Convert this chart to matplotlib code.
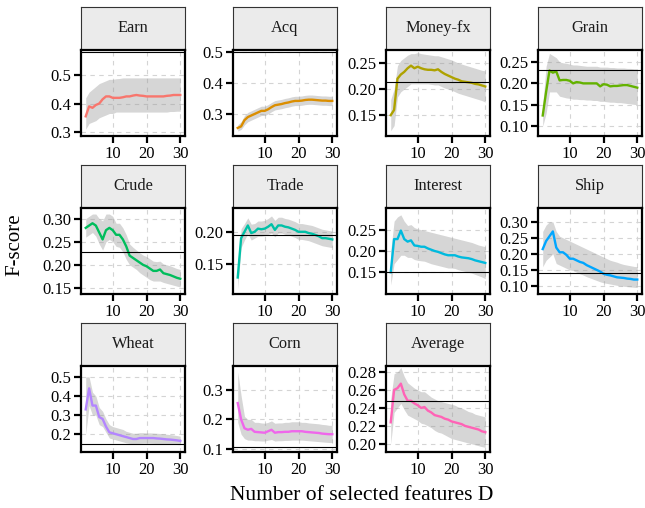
import numpy as np
import matplotlib
matplotlib.use("Agg")
import matplotlib.pyplot as plt
from matplotlib.ticker import FormatStrFormatter

plt.rcParams['font.family'] = ['Liberation Serif', 'DejaVu Serif']

# number of selected features D
x = list(range(2, 31))

names = ["Earn", "Acq", "Money-fx", "Grain", "Crude", "Trade",
         "Interest", "Ship", "Wheat", "Corn", "Average"]
colors = ["#F8766D", "#DB8E00", "#AEA200", "#64B200", "#00BD5C", "#00C1A7",
          "#00BADE", "#00A6FF", "#B385FF", "#EF67EB", "#FF63B6"]

# baseline F-score (black horizontal line)
baseline = [0.582, 0.5, 0.214, 0.231, 0.227, 0.195, 0.15, 0.14, 0.148, 0.107, 0.248]

earn_mean = [0.355, 0.39, 0.385, 0.395, 0.40, 0.415, 0.425, 0.425, 0.42, 0.42, 0.42, 0.422, 0.425, 0.425, 0.428,
             0.43, 0.428, 0.427, 0.425, 0.425, 0.425, 0.425, 0.425, 0.425, 0.427, 0.428, 0.43, 0.43, 0.43]
earn_lo = [0.31, 0.33, 0.335, 0.34, 0.35, 0.355, 0.36, 0.365, 0.365, 0.37, 0.37, 0.37, 0.37, 0.37, 0.37,
           0.37, 0.37, 0.37, 0.37, 0.37, 0.37, 0.37, 0.37, 0.37, 0.37, 0.372, 0.372, 0.373, 0.373]
earn_hi = [0.42, 0.44, 0.45, 0.46, 0.47, 0.475, 0.48, 0.485, 0.485, 0.487, 0.488, 0.49, 0.49, 0.49, 0.49,
           0.49, 0.49, 0.49, 0.49, 0.49, 0.49, 0.49, 0.49, 0.49, 0.49, 0.49, 0.49, 0.49, 0.49]

acq_mean = [0.255, 0.26, 0.28, 0.29, 0.295, 0.30, 0.305, 0.31, 0.31, 0.315, 0.322, 0.328, 0.33, 0.332, 0.335,
            0.337, 0.34, 0.342, 0.342, 0.343, 0.345, 0.346, 0.346, 0.345, 0.344, 0.343, 0.343, 0.342, 0.342]
acq_lo = [0.245, 0.25, 0.265, 0.275, 0.28, 0.285, 0.29, 0.295, 0.295, 0.30, 0.307, 0.313, 0.315, 0.317, 0.32,
          0.322, 0.325, 0.327, 0.327, 0.328, 0.33, 0.331, 0.331, 0.33, 0.329, 0.328, 0.328, 0.327, 0.327]
acq_hi = [0.265, 0.275, 0.295, 0.305, 0.31, 0.315, 0.32, 0.325, 0.325, 0.33, 0.337, 0.343, 0.345, 0.347, 0.35,
          0.352, 0.355, 0.357, 0.357, 0.358, 0.36, 0.361, 0.361, 0.36, 0.359, 0.358, 0.358, 0.357, 0.357]

mfx_mean = [0.15, 0.16, 0.22, 0.228, 0.233, 0.24, 0.245, 0.24, 0.243, 0.24, 0.238, 0.237, 0.237, 0.236, 0.238,
            0.233, 0.229, 0.226, 0.223, 0.22, 0.218, 0.215, 0.214, 0.213, 0.212, 0.21, 0.209, 0.207, 0.205]
mfx_lo = [0.12, 0.13, 0.185, 0.195, 0.2, 0.205, 0.21, 0.21, 0.21, 0.21, 0.21, 0.21, 0.209, 0.208, 0.208,
          0.205, 0.202, 0.2, 0.198, 0.195, 0.192, 0.19, 0.188, 0.186, 0.184, 0.182, 0.18, 0.178, 0.175]
mfx_hi = [0.18, 0.2, 0.245, 0.255, 0.26, 0.265, 0.268, 0.268, 0.27, 0.268, 0.267, 0.266, 0.265, 0.264, 0.264,
          0.262, 0.26, 0.258, 0.256, 0.253, 0.25, 0.248, 0.246, 0.244, 0.242, 0.24, 0.238, 0.236, 0.235]

grain_mean = [0.125, 0.18, 0.23, 0.225, 0.228, 0.207, 0.208, 0.208, 0.206, 0.2, 0.203, 0.202, 0.2, 0.2, 0.2,
              0.2, 0.2, 0.193, 0.198, 0.197, 0.193, 0.194, 0.194, 0.195, 0.196, 0.196, 0.194, 0.192, 0.19]
grain_lo = [0.1, 0.13, 0.18, 0.18, 0.18, 0.17, 0.168, 0.166, 0.165, 0.163, 0.163, 0.162, 0.162, 0.161, 0.161,
            0.16, 0.16, 0.158, 0.158, 0.157, 0.156, 0.156, 0.155, 0.155, 0.154, 0.153, 0.152, 0.151, 0.15]
grain_hi = [0.15, 0.24, 0.27, 0.265, 0.26, 0.25, 0.248, 0.247, 0.245, 0.243, 0.243, 0.242, 0.241, 0.24, 0.24,
            0.24, 0.24, 0.238, 0.238, 0.238, 0.237, 0.237, 0.236, 0.236, 0.236, 0.235, 0.235, 0.234, 0.234]

crude_mean = [0.28, 0.285, 0.29, 0.285, 0.27, 0.255, 0.275, 0.28, 0.275, 0.265, 0.265, 0.255, 0.24, 0.22, 0.215,
              0.21, 0.205, 0.2, 0.197, 0.192, 0.187, 0.187, 0.19, 0.182, 0.18, 0.178, 0.175, 0.172, 0.17]
crude_lo = [0.26, 0.265, 0.27, 0.262, 0.245, 0.232, 0.25, 0.255, 0.25, 0.24, 0.238, 0.228, 0.212, 0.2, 0.195,
            0.19, 0.183, 0.178, 0.173, 0.168, 0.165, 0.165, 0.165, 0.162, 0.16, 0.158, 0.156, 0.154, 0.152]
crude_hi = [0.30, 0.305, 0.31, 0.31, 0.30, 0.295, 0.31, 0.31, 0.305, 0.29, 0.29, 0.28, 0.265, 0.245, 0.238,
            0.232, 0.226, 0.221, 0.218, 0.213, 0.208, 0.207, 0.208, 0.202, 0.2, 0.198, 0.195, 0.192, 0.19]

trade_mean = [0.128, 0.19, 0.2, 0.21, 0.198, 0.2, 0.205, 0.204, 0.205, 0.208, 0.212, 0.203, 0.21, 0.21, 0.208,
              0.207, 0.205, 0.203, 0.2, 0.2, 0.2, 0.198, 0.197, 0.195, 0.193, 0.19, 0.19, 0.189, 0.188]
trade_lo = [0.11, 0.175, 0.187, 0.197, 0.187, 0.19, 0.193, 0.193, 0.194, 0.196, 0.198, 0.192, 0.198, 0.198, 0.196,
            0.195, 0.193, 0.191, 0.188, 0.188, 0.187, 0.186, 0.184, 0.182, 0.18, 0.178, 0.177, 0.176, 0.175]
trade_hi = [0.15, 0.205, 0.213, 0.222, 0.212, 0.213, 0.217, 0.217, 0.218, 0.221, 0.225, 0.218, 0.223, 0.223, 0.221,
            0.22, 0.218, 0.216, 0.213, 0.213, 0.212, 0.211, 0.21, 0.208, 0.206, 0.204, 0.203, 0.202, 0.201]

interest_mean = [0.15, 0.228, 0.228, 0.248, 0.228, 0.222, 0.225, 0.213, 0.212, 0.21, 0.21, 0.206, 0.203, 0.2, 0.198,
                 0.195, 0.192, 0.19, 0.19, 0.19, 0.187, 0.185, 0.184, 0.183, 0.181, 0.178, 0.176, 0.174, 0.172]
interest_lo = [0.12, 0.17, 0.18, 0.19, 0.19, 0.185, 0.185, 0.18, 0.178, 0.177, 0.176, 0.173, 0.17, 0.168, 0.166,
               0.164, 0.162, 0.16, 0.16, 0.159, 0.156, 0.154, 0.152, 0.15, 0.148, 0.145, 0.142, 0.139, 0.135]
interest_hi = [0.2, 0.27, 0.28, 0.285, 0.27, 0.26, 0.262, 0.255, 0.252, 0.25, 0.248, 0.246, 0.244, 0.242, 0.24,
               0.238, 0.236, 0.234, 0.232, 0.23, 0.228, 0.226, 0.224, 0.222, 0.22, 0.217, 0.214, 0.212, 0.21]

ship_mean = [0.215, 0.24, 0.255, 0.27, 0.22, 0.205, 0.205, 0.197, 0.185, 0.185, 0.18, 0.175, 0.172, 0.165, 0.16,
             0.155, 0.15, 0.145, 0.138, 0.135, 0.133, 0.13, 0.127, 0.126, 0.125, 0.123, 0.122, 0.12, 0.12]
ship_lo = [0.16, 0.18, 0.19, 0.2, 0.17, 0.165, 0.16, 0.155, 0.15, 0.148, 0.143, 0.138, 0.134, 0.129, 0.125,
           0.121, 0.117, 0.113, 0.11, 0.108, 0.106, 0.104, 0.102, 0.1, 0.099, 0.098, 0.097, 0.096, 0.095]
ship_hi = [0.27, 0.29, 0.3, 0.3, 0.27, 0.255, 0.25, 0.245, 0.24, 0.235, 0.23, 0.225, 0.22, 0.215, 0.21,
           0.205, 0.2, 0.195, 0.19, 0.185, 0.18, 0.177, 0.174, 0.17, 0.167, 0.165, 0.163, 0.161, 0.16]

wheat_mean = [0.33, 0.44, 0.35, 0.35, 0.29, 0.28, 0.24, 0.21, 0.205, 0.2, 0.195, 0.19, 0.185, 0.18, 0.175,
              0.175, 0.18, 0.18, 0.18, 0.18, 0.18, 0.178, 0.177, 0.175, 0.173, 0.172, 0.17, 0.168, 0.165]
wheat_lo = [0.2, 0.35, 0.3, 0.3, 0.25, 0.24, 0.21, 0.18, 0.175, 0.17, 0.165, 0.16, 0.155, 0.152, 0.15,
            0.15, 0.152, 0.153, 0.153, 0.153, 0.152, 0.151, 0.15, 0.15, 0.149, 0.148, 0.147, 0.146, 0.145]
wheat_hi = [0.5, 0.5, 0.42, 0.4, 0.34, 0.32, 0.28, 0.25, 0.24, 0.235, 0.23, 0.225, 0.215, 0.21, 0.205,
            0.205, 0.208, 0.208, 0.207, 0.207, 0.206, 0.205, 0.204, 0.202, 0.2, 0.198, 0.196, 0.193, 0.19]

corn_mean = [0.255, 0.2, 0.17, 0.165, 0.168, 0.158, 0.157, 0.156, 0.155, 0.16, 0.165, 0.155, 0.157, 0.157, 0.158,
             0.158, 0.16, 0.16, 0.16, 0.16, 0.158, 0.157, 0.156, 0.155, 0.154, 0.152, 0.151, 0.15, 0.15]
corn_lo = [0.19, 0.15, 0.135, 0.13, 0.13, 0.128, 0.128, 0.127, 0.127, 0.13, 0.132, 0.127, 0.128, 0.128, 0.129,
           0.129, 0.13, 0.13, 0.13, 0.13, 0.129, 0.128, 0.127, 0.126, 0.125, 0.124, 0.123, 0.122, 0.122]
corn_hi = [0.36, 0.28, 0.21, 0.2, 0.2, 0.19, 0.19, 0.188, 0.187, 0.19, 0.195, 0.187, 0.188, 0.188, 0.19,
           0.19, 0.192, 0.192, 0.192, 0.19, 0.19, 0.188, 0.187, 0.186, 0.185, 0.183, 0.182, 0.18, 0.18]

avg_mean = [0.224, 0.26, 0.262, 0.267, 0.255, 0.248, 0.248, 0.245, 0.243, 0.24, 0.241, 0.237, 0.235, 0.232, 0.231,
            0.23, 0.228, 0.227, 0.225, 0.224, 0.223, 0.222, 0.22, 0.219, 0.218, 0.217, 0.216, 0.214, 0.213]
avg_lo = [0.2, 0.235, 0.24, 0.245, 0.238, 0.232, 0.23, 0.228, 0.226, 0.223, 0.222, 0.22, 0.218, 0.215, 0.213,
          0.212, 0.21, 0.208, 0.206, 0.205, 0.204, 0.203, 0.202, 0.201, 0.2, 0.199, 0.198, 0.197, 0.196]
avg_hi = [0.25, 0.278, 0.28, 0.285, 0.275, 0.268, 0.265, 0.262, 0.26, 0.258, 0.258, 0.255, 0.252, 0.25, 0.248,
          0.247, 0.246, 0.245, 0.244, 0.243, 0.241, 0.24, 0.238, 0.236, 0.235, 0.233, 0.232, 0.231, 0.23]

means = [earn_mean, acq_mean, mfx_mean, grain_mean, crude_mean, trade_mean,
         interest_mean, ship_mean, wheat_mean, corn_mean, avg_mean]
lows = [earn_lo, acq_lo, mfx_lo, grain_lo, crude_lo, trade_lo,
        interest_lo, ship_lo, wheat_lo, corn_lo, avg_lo]
highs = [earn_hi, acq_hi, mfx_hi, grain_hi, crude_hi, trade_hi,
         interest_hi, ship_hi, wheat_hi, corn_hi, avg_hi]

# axis setup per panel
ylims = [(0.286, 0.588), (0.229, 0.506), (0.11, 0.275), (0.077, 0.278), (0.137, 0.323), (0.102, 0.2375),
         (0.099, 0.301), (0.075, 0.343), (0.107, 0.557), (0.09, 0.38), (0.191, 0.2866)]
yticks = [[0.3, 0.4, 0.5], [0.3, 0.4, 0.5], [0.15, 0.2, 0.25], [0.1, 0.15, 0.2, 0.25],
          [0.15, 0.2, 0.25, 0.3], [0.15, 0.2], [0.15, 0.2, 0.25], [0.1, 0.15, 0.2, 0.25, 0.3],
          [0.2, 0.3, 0.4, 0.5], [0.1, 0.2, 0.3], [0.2, 0.22, 0.24, 0.26, 0.28]]
yfmt = ["%.1f", "%.1f", "%.2f", "%.2f", "%.2f", "%.2f", "%.2f", "%.2f", "%.1f", "%.1f", "%.2f"]

W, H = 645, 508
fig = plt.figure(figsize=(W / 100, H / 100), dpi=100)

col_left = [81, 233, 386, 538]
row_top = [7, 165, 323]
pw = 104
sh = 43
ph = 86

for i, name in enumerate(names):
    r, c = divmod(i, 4)
    left = col_left[c]
    top = row_top[r]
    # strip
    sax = fig.add_axes([left / W, 1 - (top + sh) / H, pw / W, sh / H])
    sax.set_facecolor("#ebebeb")
    sax.set_xticks([])
    sax.set_yticks([])
    for sp in sax.spines.values():
        sp.set_color("#333333")
        sp.set_linewidth(0.8)
    sax.text(0.5, 0.5, name, ha="center", va="center", fontsize=11.8, color="#1a1a1a",
             transform=sax.transAxes)

    # panel
    ax = fig.add_axes([left / W, 1 - (top + sh + ph) / H, pw / W, ph / H])
    ax.fill_between(x, lows[i], highs[i], color="#999999", alpha=0.4, linewidth=0, zorder=2)
    ax.plot(x, means[i], color=colors[i], linewidth=1.7, zorder=3)
    ax.axhline(baseline[i], color="black", linewidth=0.8, zorder=4)
    ax.set_xlim(0.6, 31.4)
    ax.set_ylim(*ylims[i])
    ax.set_xticks([10, 20, 30])
    ax.set_yticks(yticks[i])
    ax.yaxis.set_major_formatter(FormatStrFormatter(yfmt[i]))
    ax.grid(True, color="#d4d4d4", linestyle=(0, (4, 4)), linewidth=0.8, zorder=0)
    ax.set_axisbelow(True)
    for sp in ax.spines.values():
        sp.set_color("black")
        sp.set_linewidth(1.6)
    ax.tick_params(direction="out", length=5, width=1.6, labelsize=12, pad=2, colors="black")

fig.text(362 / W, 1 - 495 / H, "Number of selected features D", ha="center", va="center", fontsize=15.5)
fig.text(15 / W, 1 - 245 / H, "F-score", ha="center", va="center", rotation=90, fontsize=15)

fig.savefig("out.png", dpi=100)
